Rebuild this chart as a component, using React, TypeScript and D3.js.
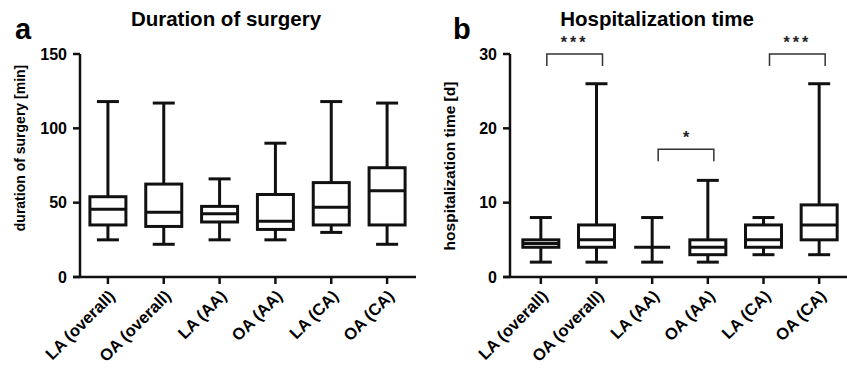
import React from 'react'
import * as d3 from 'd3'

// groups on the x axis (same for both panels)
const categories = ['LA (overall)', 'OA (overall)', 'LA (AA)', 'OA (AA)', 'LA (CA)', 'OA (CA)']

// a: duration of surgery [min]
const surgeryMin = [25, 22, 25, 25, 30, 22]
const surgeryQ1 = [35, 34, 37, 32, 35, 35]
const surgeryMedian = [45.5, 43.5, 42.5, 37.5, 47, 58]
const surgeryQ3 = [54, 62.5, 47.5, 55.5, 63.5, 73.5]
const surgeryMax = [118, 117, 66, 90, 118, 117]
const surgeryTicks = [0, 50, 100, 150]

// b: hospitalization time [d]
const hospMin = [2, 2, 2, 2, 3, 3]
const hospQ1 = [4, 4, 4, 3, 4, 5]
const hospMedian = [4.5, 5, 4, 4, 5, 7]
const hospQ3 = [5, 7, 4, 5, 7, 9.7]
const hospMax = [8, 26, 8, 13, 8, 26]
const hospTicks = [0, 10, 20, 30]

// significance brackets for b: [from, to, label, level]
const hospSig: [number, number, string, number][] = [
  [0, 1, '***', 30],
  [2, 3, '*', 17.2],
  [4, 5, '***', 30],
]

const FONT = '"Liberation Sans", Arial, sans-serif'

interface PanelProps {
  letter: string
  letterX: number
  title: string
  yTitle: string
  yMax: number
  ticks: number[]
  lo: number[]
  q1: number[]
  med: number[]
  q3: number[]
  hi: number[]
  axisX: number
  x0: number
  x1: number
  titleX: number
  yTitleY: number
  yTitleSize: number
  sig?: [number, number, string, number][]
}

function Panel(p: PanelProps) {
  const y = d3.scaleLinear().domain([0, p.yMax]).range([277, 54])
  const x = d3.scalePoint<string>().domain(categories).range([p.x0, p.x1]).padding(0.5)
  const boxW = 36
  const capW = 22
  const line = '#111'

  return (
    <g fontFamily={FONT}>
      <text x={p.letterX} y={39} fontSize={29} fontWeight="bold">{p.letter}</text>
      <text x={p.titleX} y={26} fontSize={20.5} fontWeight="bold" textAnchor="middle">{p.title}</text>
      <text
        transform={`translate(${p.axisX - 55},${p.yTitleY}) rotate(-90)`}
        fontSize={p.yTitleSize}
        fontWeight="bold"
        textAnchor="middle">
        {p.yTitle}
      </text>

      {/* y axis */}
      <line x1={p.axisX} x2={p.axisX} y1={y(p.yMax)} y2={y(0)} stroke={line} strokeWidth={2.5} />
      {p.ticks.map((t) => (
        <g key={t}>
          <line x1={p.axisX - 7} x2={p.axisX} y1={y(t)} y2={y(t)} stroke={line} strokeWidth={2.5} />
          <text x={p.axisX - 13} y={y(t)} dy="0.36em" fontSize={16} fontWeight="bold" textAnchor="end">
            {t}
          </text>
        </g>
      ))}

      {/* x axis */}
      <line x1={p.axisX - 7} x2={p.x1 + 1} y1={y(0)} y2={y(0)} stroke={line} strokeWidth={2.5} />
      {categories.map((c) => (
        <g key={c}>
          <line x1={x(c)} x2={x(c)} y1={y(0)} y2={y(0) + 7} stroke={line} strokeWidth={2.5} />
          <text
            transform={`translate(${(x(c) as number) + 4},${293}) rotate(-45)`}
            dy="0.35em"
            fontSize={16.5}
            fontWeight="bold"
            textAnchor="end">
            {c}
          </text>
        </g>
      ))}

      {/* boxes */}
      {categories.map((c, i) => {
        const cx = x(c) as number
        return (
          <g key={c} stroke={line} strokeWidth={3} fill="none">
            <line x1={cx} x2={cx} y1={y(p.hi[i])} y2={y(p.q3[i])} />
            <line x1={cx} x2={cx} y1={y(p.q1[i])} y2={y(p.lo[i])} />
            <line x1={cx - capW / 2} x2={cx + capW / 2} y1={y(p.hi[i])} y2={y(p.hi[i])} />
            <line x1={cx - capW / 2} x2={cx + capW / 2} y1={y(p.lo[i])} y2={y(p.lo[i])} />
            <rect
              x={cx - boxW / 2}
              y={y(p.q3[i])}
              width={boxW}
              height={Math.max(0, y(p.q1[i]) - y(p.q3[i]))}
              fill="white"
            />
            <line x1={cx - boxW / 2} x2={cx + boxW / 2} y1={y(p.med[i])} y2={y(p.med[i])} />
          </g>
        )
      })}

      {/* significance */}
      {(p.sig || []).map(([a, b, label, lvl]) => {
        const xa = (x(categories[a]) as number) + 6
        const xb = (x(categories[b]) as number) + 6
        const yl = y(lvl)
        const drop = 12
        return (
          <g key={a}>
            <path
              d={`M${xa},${yl + drop}V${yl}H${xb}V${yl + drop}`}
              fill="none"
              stroke="#333"
              strokeWidth={1.5}
            />
            <text
              x={(xa + xb) / 2}
              y={yl - 6}
              fontSize={16}
              fontWeight="bold"
              letterSpacing={label.length > 1 ? 3 : 0}
              textAnchor="middle"
              fill="#222">
              {label}
            </text>
          </g>
        )
      })}
    </g>
  )
}

export default function App() {
  return (
    <svg width={847} height={368} style={{display: 'block', position: 'absolute', left: 0, top: 0, background: '#fff'}}>
      <Panel
        letter="a"
        letterX={15}
        title="Duration of surgery"
        yTitle="duration of surgery [min]"
        yMax={150}
        ticks={surgeryTicks}
        lo={surgeryMin}
        q1={surgeryQ1}
        med={surgeryMedian}
        q3={surgeryQ3}
        hi={surgeryMax}
        axisX={80}
        x0={80}
        x1={415}
        titleX={226}
        yTitleY={148}
        yTitleSize={14}
      />
      <Panel
        letter="b"
        letterX={453}
        title="Hospitalization time"
        yTitle="hospitalization time [d]"
        yMax={30}
        ticks={hospTicks}
        lo={hospMin}
        q1={hospQ1}
        med={hospMedian}
        q3={hospQ3}
        hi={hospMax}
        axisX={510}
        x0={513}
        x1={847}
        titleX={657}
        yTitleY={166}
        yTitleSize={15.5}
        sig={hospSig}
      />
    </svg>
  )
}
